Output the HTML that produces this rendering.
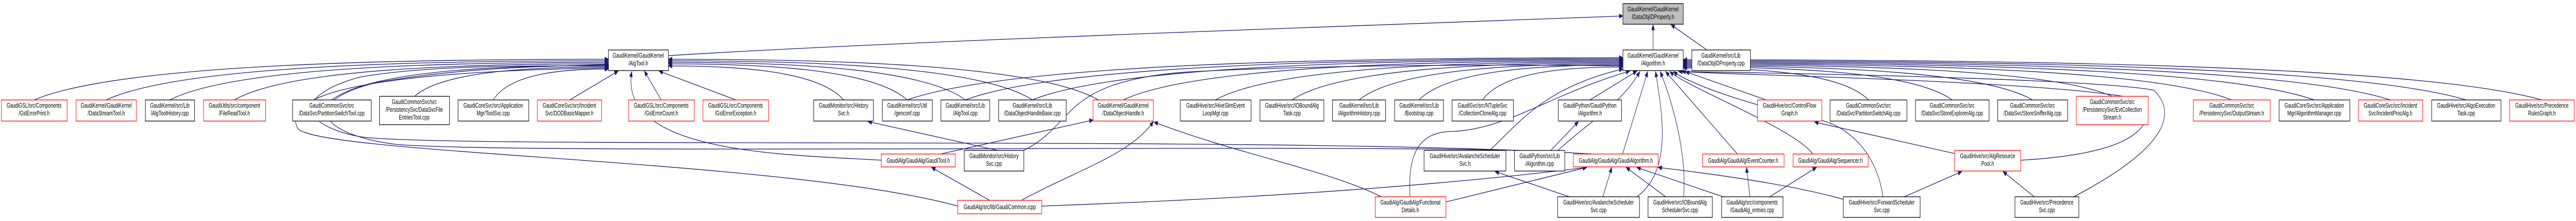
<!DOCTYPE html>
<html><head><meta charset="utf-8">
<style>
html,body{margin:0;padding:0;background:#fff;width:100%;height:100%;overflow:hidden;}
svg{display:block;position:absolute;left:0;top:0;width:100vw;height:100vh;}
text{font-family:"Liberation Sans",Arial,sans-serif;font-size:12.5px;fill:#000;text-anchor:middle;}
.b{fill:#fff;stroke:#000;stroke-width:1.3;}
.r{fill:#fff;stroke:#ff0000;stroke-width:1.3;}
.g{fill:#bfbfbf;stroke:#000;stroke-width:1.3;}
.e{fill:none;stroke:#191970;stroke-width:1.3;}
.a{fill:#191970;stroke:#191970;stroke-width:1;}
</style></head>
<body>
<svg id="s" viewBox="0 0 7176 429" preserveAspectRatio="none" xmlns="http://www.w3.org/2000/svg">
<g id="edges"></g>
<g id="nodes">
<rect class="g" x="4521" y="7" width="168" height="40"/><text x="4605" y="22">GaudiKernel/GaudiKernel</text><text x="4605" y="37">/DataObjIDProperty.h</text>
<rect class="b" x="1695" y="97" width="167" height="40"/><text x="1778" y="112">GaudiKernel/GaudiKernel</text><text x="1778" y="127">/AlgTool.h</text>
<rect class="b" x="4521" y="97" width="168" height="40"/><text x="4605" y="112">GaudiKernel/GaudiKernel</text><text x="4605" y="127">/Algorithm.h</text>
<rect class="b" x="4713" y="97" width="163" height="40"/><text x="4794" y="112">GaudiKernel/src/Lib</text><text x="4794" y="127">/DataObjIDProperty.cpp</text>
<rect class="r" x="4" y="194" width="183" height="41"/><text x="95" y="209">GaudiGSL/src/Components</text><text x="95" y="224">/GslErrorPrint.h</text>
<rect class="r" x="212" y="194" width="168" height="41"/><text x="296" y="209">GaudiKernel/GaudiKernel</text><text x="296" y="224">/DataStreamTool.h</text>
<rect class="b" x="405" y="194" width="137" height="41"/><text x="473" y="209">GaudiKernel/src/Lib</text><text x="473" y="224">/AlgToolHistory.cpp</text>
<rect class="r" x="567" y="194" width="173" height="41"/><text x="653" y="209">GaudiUtils/src/component</text><text x="653" y="224">/FileReadTool.h</text>
<rect class="b" x="815" y="194" width="219" height="41"/><text x="924" y="209">GaudiCommonSvc/src</text><text x="924" y="224">/DataSvc/PartitionSwitchTool.cpp</text>
<rect class="b" x="1057" y="187" width="195" height="55"/><text x="1154" y="202">GaudiCommonSvc/src</text><text x="1154" y="217">/PersistencySvc/DataSvcFile</text><text x="1154" y="232">EntriesTool.cpp</text>
<rect class="b" x="1276" y="194" width="197" height="41"/><text x="1374" y="209">GaudiCoreSvc/src/Application</text><text x="1374" y="224">Mgr/ToolSvc.cpp</text>
<rect class="r" x="1497" y="194" width="179" height="41"/><text x="1586" y="209">GaudiCoreSvc/src/Incident</text><text x="1586" y="224">Svc/DODBasicMapper.h</text>
<rect class="r" x="1751" y="194" width="183" height="41"/><text x="1842" y="209">GaudiGSL/src/Components</text><text x="1842" y="224">/GslErrorCount.h</text>
<rect class="r" x="1958" y="194" width="183" height="41"/><text x="2049" y="209">GaudiGSL/src/Components</text><text x="2049" y="224">/GslErrorException.h</text>
<rect class="b" x="2267" y="194" width="166" height="41"/><text x="2350" y="209">GaudiMonitor/src/History</text><text x="2350" y="224">Svc.h</text>
<rect class="b" x="2458" y="194" width="139" height="41"/><text x="2527" y="209">GaudiKernel/src/Util</text><text x="2527" y="224">/genconf.cpp</text>
<rect class="b" x="2621" y="194" width="136" height="41"/><text x="2689" y="209">GaudiKernel/src/Lib</text><text x="2689" y="224">/AlgTool.cpp</text>
<rect class="b" x="2782" y="194" width="188" height="41"/><text x="2876" y="209">GaudiKernel/src/Lib</text><text x="2876" y="224">/DataObjectHandleBase.cpp</text>
<rect class="r" x="3045" y="194" width="168" height="41"/><text x="3129" y="209">GaudiKernel/GaudiKernel</text><text x="3129" y="224">/DataObjectHandle.h</text>
<rect class="b" x="3288" y="194" width="197" height="41"/><text x="3386" y="209">GaudiHive/src/HiveSlimEvent</text><text x="3386" y="224">LoopMgr.cpp</text>
<rect class="b" x="3510" y="194" width="178" height="41"/><text x="3599" y="209">GaudiHive/src/IOBoundAlg</text><text x="3599" y="224">Task.cpp</text>
<rect class="b" x="3712" y="194" width="148" height="41"/><text x="3786" y="209">GaudiKernel/src/Lib</text><text x="3786" y="224">/AlgorithmHistory.cpp</text>
<rect class="b" x="3885" y="194" width="136" height="41"/><text x="3953" y="209">GaudiKernel/src/Lib</text><text x="3953" y="224">/Bootstrap.cpp</text>
<rect class="b" x="4045" y="194" width="171" height="41"/><text x="4130" y="209">GaudiSvc/src/NTupleSvc</text><text x="4130" y="224">/CollectionCloneAlg.cpp</text>
<rect class="b" x="4341" y="194" width="176" height="41"/><text x="4429" y="209">GaudiPython/GaudiPython</text><text x="4429" y="224">/Algorithm.h</text>
<rect class="r" x="4896" y="194" width="179" height="41"/><text x="4985" y="209">GaudiHive/src/ControlFlow</text><text x="4985" y="224">Graph.h</text>
<rect class="b" x="5098" y="194" width="214" height="41"/><text x="5205" y="209">GaudiCommonSvc/src</text><text x="5205" y="224">/DataSvc/PartitionSwitchAlg.cpp</text>
<rect class="b" x="5336" y="194" width="205" height="41"/><text x="5438" y="209">GaudiCommonSvc/src</text><text x="5438" y="224">/DataSvc/StoreExplorerAlg.cpp</text>
<rect class="b" x="5565" y="194" width="195" height="41"/><text x="5662" y="209">GaudiCommonSvc/src</text><text x="5662" y="224">/DataSvc/StoreSnifferAlg.cpp</text>
<rect class="r" x="5784" y="187" width="200" height="55"/><text x="5884" y="202">GaudiCommonSvc/src</text><text x="5884" y="217">/PersistencySvc/EvtCollection</text><text x="5884" y="232">Stream.h</text>
<rect class="r" x="6110" y="194" width="214" height="41"/><text x="6217" y="209">GaudiCommonSvc/src</text><text x="6217" y="224">/PersistencySvc/OutputStream.h</text>
<rect class="b" x="6349" y="194" width="197" height="41"/><text x="6447" y="209">GaudiCoreSvc/src/Application</text><text x="6447" y="224">Mgr/AlgorithmManager.cpp</text>
<rect class="r" x="6570" y="194" width="179" height="41"/><text x="6659" y="209">GaudiCoreSvc/src/Incident</text><text x="6659" y="224">Svc/IncidentProcAlg.h</text>
<rect class="b" x="6774" y="194" width="193" height="41"/><text x="6870" y="209">GaudiHive/src/AlgoExecution</text><text x="6870" y="224">Task.cpp</text>
<rect class="r" x="6991" y="194" width="180" height="41"/><text x="7081" y="209">GaudiHive/src/Precedence</text><text x="7081" y="224">RulesGraph.h</text>
<rect class="r" x="2455" y="299" width="206" height="25"/><text x="2558" y="316">GaudiAlg/GaudiAlg/GaudiTool.h</text>
<rect class="b" x="2686" y="292" width="166" height="40"/><text x="2769" y="307">GaudiMonitor/src/History</text><text x="2769" y="322">Svc.cpp</text>
<rect class="b" x="3967" y="292" width="228" height="40"/><text x="4081" y="307">GaudiHive/src/AvalancheScheduler</text><text x="4081" y="322">Svc.h</text>
<rect class="b" x="4219" y="292" width="140" height="40"/><text x="4289" y="307">GaudiPython/src/Lib</text><text x="4289" y="322">/Algorithm.cpp</text>
<rect class="r" x="4383" y="299" width="236" height="25"/><text x="4501" y="316">GaudiAlg/GaudiAlg/GaudiAlgorithm.h</text>
<rect class="r" x="4743" y="299" width="227" height="25"/><text x="4856" y="316">GaudiAlg/GaudiAlg/EventCounter.h</text>
<rect class="r" x="4995" y="299" width="209" height="25"/><text x="5099" y="316">GaudiAlg/GaudiAlg/Sequencer.h</text>
<rect class="r" x="5445" y="292" width="184" height="40"/><text x="5537" y="307">GaudiHive/src/AlgResource</text><text x="5537" y="322">Pool.h</text>
<rect class="r" x="2668" y="389" width="234" height="26"/><text x="2785" y="406">GaudiAlg/src/lib/GaudiCommon.icpp</text>
<rect class="r" x="3831" y="382" width="197" height="40"/><text x="3929" y="397">GaudiAlg/GaudiAlg/Functional</text><text x="3929" y="412">Details.h</text>
<rect class="b" x="4339" y="382" width="228" height="40"/><text x="4453" y="397">GaudiHive/src/AvalancheScheduler</text><text x="4453" y="412">Svc.cpp</text>
<rect class="b" x="4591" y="382" width="179" height="40"/><text x="4680" y="397">GaudiHive/src/IOBoundAlg</text><text x="4680" y="412">SchedulerSvc.cpp</text>
<rect class="b" x="4796" y="382" width="171" height="40"/><text x="4881" y="397">GaudiAlg/src/components</text><text x="4881" y="412">/GaudiAlg_entries.cpp</text>
<rect class="b" x="5135" y="382" width="214" height="40"/><text x="5242" y="397">GaudiHive/src/ForwardScheduler</text><text x="5242" y="412">Svc.cpp</text>
<rect class="b" x="5613" y="382" width="178" height="40"/><text x="5702" y="397">GaudiHive/src/Precedence</text><text x="5702" y="412">Svc.cpp</text>
</g>
</svg>
<script>
(function(){
var g=document.getElementById('edges'),out='';
function add(d){
  var n=d.match(/-?\d+(\.\d+)?/g).map(Number),L=n.length;
  var ex=n[L-2],ey=n[L-1],cx=n[L-4],cy=n[L-3];
  var dx=ex-cx,dy=ey-cy,len=Math.sqrt(dx*dx+dy*dy)||1;dx/=len;dy/=len;
  var bx=ex-dx*10,by=ey-dy*10,px=-dy*4,py=dx*4;
  out+='<path class="e" d="'+d+'"/>';
  out+='<polygon class="a" points="'+ex+','+ey+' '+(bx+px)+','+(by+py)+' '+(bx-px)+','+(by-py)+'"/>';
}
function H(sx,sy,ex,ey){add('M'+sx+','+sy+' C'+(sx+(ex-sx)*0.15)+','+(sy-(sy-ey)*0.9)+' '+(ex-(ex-sx)*0.35)+','+ey+' '+ex+','+ey);}
function S(sx,sy,ex,ey){add('M'+sx+','+sy+' C'+sx+','+sy+' '+(sx+(ex-sx)*0.5)+','+(sy+(ey-sy)*0.5)+' '+ex+','+ey);}
H(95,194,1695,115);H(296,194,1695,118);H(473,194,1695,121);H(653,194,1695,124);
H(924,194,1695,127);H(1155,187,1695,130);H(1374,194,1695,134);
S(1587,194,1722,138);S(1842,194,1795,138);S(2050,194,1836,138);
H(2350,194,1862,128);H(2527,194,1862,124);H(2689,194,1862,121);H(2876,194,1862,118);H(3060,194,1862,115);
add('M2455,311 C2200,300 1720,300 1760,139');
add('M2668,400 C2200,310 900,300 830,250 C790,200 900,140 1695,132');
add('M4436,299 C3600,262 1200,290 1000,265 C850,245 800,190 1000,150 C1200,125 1500,128 1695,128');
add('M4220,292 C3600,280 1400,300 1100,280 C900,262 820,200 1050,160 C1300,130 1500,130 1695,125');
add('M1862,108 C2500,80 3800,50 4521,31');
S(4605,97,4605,48);S(4755,97,4655,48);
H(2527,194,4521,112);H(2689,194,4521,114);H(2876,194,4521,116);H(3129,194,4521,118);
H(3386,194,4521,120);H(3599,194,4521,122);H(3786,194,4521,124);H(3953,194,4521,126);H(4130,194,4521,130);
S(4429,194,4560,138);
add('M2852,292 C3000,240 2950,160 3300,140 C3700,125 4200,125 4521,128');
S(4920,194,4695,139);
H(5205,194,4689,132);H(5438,194,4689,130);H(5662,194,4689,128);H(5884,187,4689,126);
H(6217,194,4689,124);H(6447,194,4689,122);H(6659,194,4689,120);H(6870,194,4689,118);H(7081,194,4689,116);
add('M4150,292 C4230,240 4300,170 4521,134');
add('M3928,382 C3920,290 3960,255 4050,255 C4200,250 4330,180 4540,138');
add('M4340,292 C4420,240 4520,200 4568,139');
S(4520,299,4590,139);
add('M4560,382 C4660,330 4630,220 4612,139');
add('M4690,382 C4700,300 4660,200 4625,139');
S(4840,299,4640,139);
add('M5050,299 C5000,250 4700,170 4652,139');
add('M5245,382 C5230,300 5150,240 5050,230 C4850,200 4700,160 4662,139');
add('M5777,382 C6000,300 6080,230 6000,175 C5800,150 4800,140 4676,139');
add('M5629,311 C5900,300 6000,260 5980,200 C5900,160 4800,145 4685,139');
S(4320,292,4397,236);S(2780,292,2418,236);S(2620,299,3045,233);S(5445,298,5055,237);
S(2757,389,2595,325);
add('M2845,389 C3000,330 3150,300 3213,236');
add('M2902,400 C3300,390 3900,370 4420,325');
add('M3848,382 C3700,330 3450,300 3215,237');
S(4028,392,4420,325);
S(4372,382,4165,333);S(4465,382,4490,325);S(4640,382,4530,325);
S(4800,382,4560,325);S(4875,382,4865,325);S(4930,382,5060,325);
add('M5135,387 C5000,360 4800,340 4619,325');
S(5305,382,5465,333);S(5667,382,5580,333);
g.innerHTML=out;
})();
</script>
</body></html>
